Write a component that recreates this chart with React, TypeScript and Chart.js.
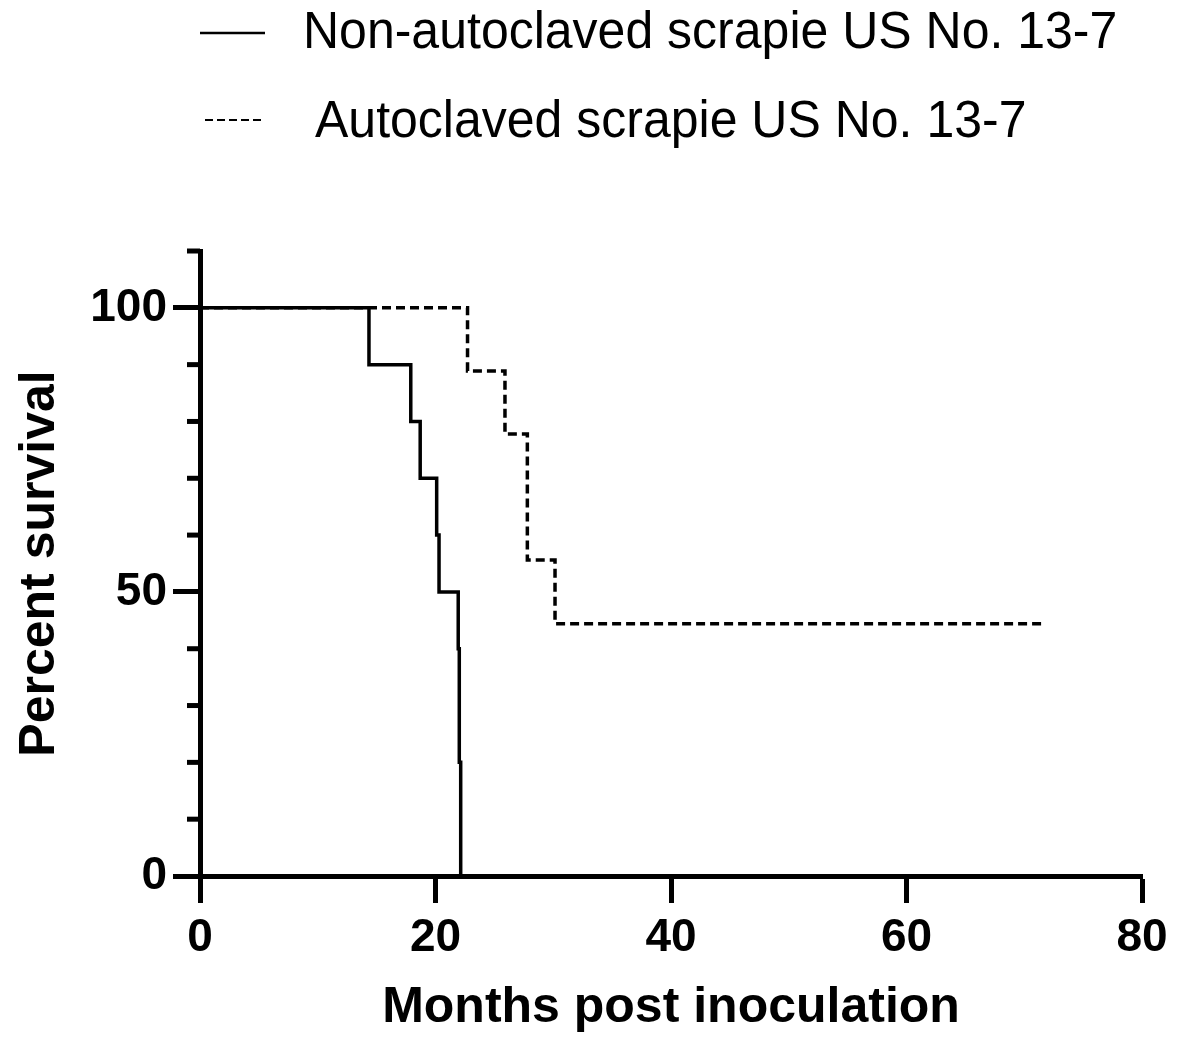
import React, { useEffect, useRef } from 'react';
import { Chart, registerables } from 'chart.js';

Chart.register(...registerables);

const seriesNames = ['Non-autoclaved scrapie US No. 13-7', 'Autoclaved scrapie US No. 13-7'];
const nonAutoMonths = [0, 14.35, 17.9, 18.7, 20.1, 20.3, 21.93, 22.02, 22.14];
const nonAutoSurvival = [100, 90, 80, 70, 60, 50, 40, 20, 0];
const autoMonths = [0, 22.72, 25.9, 27.8, 30.15, 71.8];
const autoSurvival = [100, 88.9, 77.8, 55.6, 44.4, 44.4];
const xTicks = [0, 20, 40, 60, 80];
const yMajorTicks = [0, 50, 100];
const yMinorTicks = [0, 10, 20, 30, 40, 50, 60, 70, 80, 90, 100, 110];
const xTitle = 'Months post inoculation';
const yTitle = 'Percent survival';

const FAMILY = '"Liberation Sans", Arial, Helvetica, sans-serif';

const customPlugin = {
  id: 'customDecor',
  afterDraw(chart: any) {
    const ctx = chart.ctx;
    const yScale = chart.scales.y;
    const left = chart.chartArea.left;
    ctx.save();
    // minor ticks on y axis
    ctx.strokeStyle = '#000';
    ctx.lineWidth = 5;
    yMinorTicks.forEach((v) => {
      if (yMajorTicks.includes(v)) return;
      const py = yScale.getPixelForValue(v);
      ctx.beginPath();
      ctx.moveTo(left - 13, py);
      ctx.lineTo(left, py);
      ctx.stroke();
    });
    // legend
    ctx.fillStyle = '#000';
    ctx.font = `50px ${FAMILY}`;
    ctx.textBaseline = 'alphabetic';
    ctx.textAlign = 'left';
    // row 1 (solid)
    ctx.lineWidth = 2.5;
    ctx.setLineDash([]);
    ctx.beginPath();
    ctx.moveTo(200, 33);
    ctx.lineTo(265, 33);
    ctx.stroke();
    ctx.save();
    ctx.translate(303, 48);
    ctx.scale(1, 1.05);
    ctx.fillText(seriesNames[0], 0, 0);
    ctx.restore();
    // row 2 (dashed)
    ctx.lineWidth = 2;
    ctx.setLineDash([8, 4]);
    ctx.beginPath();
    ctx.moveTo(205, 120);
    ctx.lineTo(262, 120);
    ctx.stroke();
    ctx.setLineDash([]);
    ctx.save();
    ctx.translate(315, 137);
    ctx.scale(1, 1.05);
    ctx.fillText(seriesNames[1], 0, 0);
    ctx.restore();
    ctx.restore();
  },
};

export default function App() {
  const canvasRef = useRef<HTMLCanvasElement | null>(null);

  useEffect(() => {
    document.body.style.margin = '0';
    const canvas = canvasRef.current;
    if (!canvas) return;
    const chart = new Chart(canvas, {
      type: 'line',
      data: {
        datasets: [
          {
            label: seriesNames[0],
            data: nonAutoMonths.map((m, i) => ({ x: m, y: nonAutoSurvival[i] })),
            borderColor: '#000',
            borderWidth: 3.5,
            stepped: 'before',
            pointRadius: 0,
            fill: false,
          },
          {
            label: seriesNames[1],
            data: autoMonths.map((m, i) => ({ x: m, y: autoSurvival[i] })),
            borderColor: '#000',
            borderWidth: 3.5,
            borderDash: [9, 5],
            stepped: 'before',
            pointRadius: 0,
            fill: false,
          },
        ],
      },
      options: {
        responsive: false,
        animation: false,
        layout: { padding: { top: 251, right: 41, left: 0, bottom: 0 } },
        plugins: { legend: { display: false }, tooltip: { enabled: false } },
        scales: {
          x: {
            type: 'linear',
            min: 0,
            max: 80,
            afterBuildTicks: (s: any) => {
              s.ticks = xTicks.map((v) => ({ value: v }));
            },
            afterFit: (s: any) => {
              s.height = 162;
            },
            border: { display: true, color: '#000', width: 5 },
            grid: {
              display: true,
              drawOnChartArea: false,
              drawTicks: true,
              tickLength: 27,
              tickWidth: 5,
              tickColor: '#000',
            },
            ticks: {
              color: '#000',
              font: { family: FAMILY, size: 46, weight: 'bold' },
              padding: 8,
              maxRotation: 0,
            },
            title: {
              display: true,
              text: xTitle,
              color: '#000',
              font: { family: FAMILY, size: 50, weight: 'bold', lineHeight: 1 },
              padding: { top: 0, bottom: 4.5 },
            },
          },
          y: {
            type: 'linear',
            min: 0,
            max: 110,
            afterBuildTicks: (s: any) => {
              s.ticks = yMajorTicks.map((v) => ({ value: v }));
            },
            afterFit: (s: any) => {
              s.width = 200;
            },
            border: { display: true, color: '#000', width: 5 },
            grid: {
              display: true,
              drawOnChartArea: false,
              drawTicks: true,
              tickLength: 27,
              tickWidth: 5,
              tickColor: '#000',
            },
            ticks: {
              color: '#000',
              font: { family: FAMILY, size: 46, weight: 'bold' },
              padding: 6,
            },
            title: {
              display: true,
              text: yTitle,
              color: '#000',
              font: { family: FAMILY, size: 50, weight: 'bold', lineHeight: 1 },
              padding: { top: 15, bottom: 0 },
            },
          },
        },
      },
      plugins: [customPlugin],
    });
    return () => {
      chart.destroy();
    };
  }, []);

  return (
    <canvas
      ref={canvasRef}
      width={1183}
      height={1038}
      style={{ display: 'block', width: 1183, height: 1038 }}
    />
  );
}
